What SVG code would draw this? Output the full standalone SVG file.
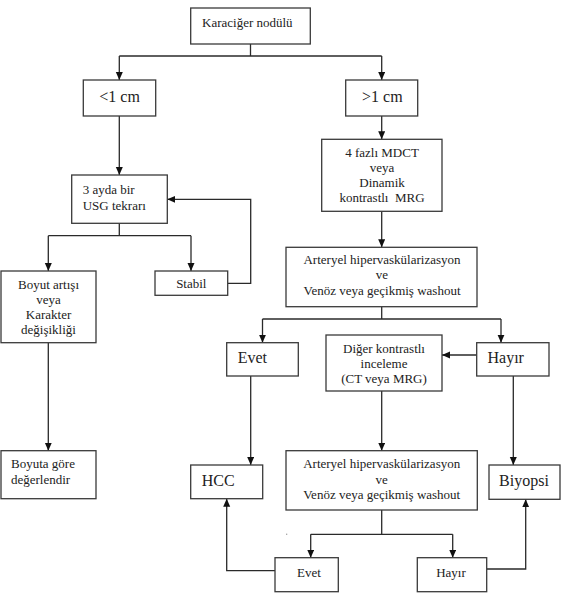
<svg xmlns="http://www.w3.org/2000/svg" width="562" height="593" viewBox="0 0 562 593">
<style>
.box{fill:#fff;stroke:#3a3a3a;stroke-width:1.3}
text{font-family:'Liberation Serif','DejaVu Serif','Times New Roman',serif;font-size:13px;fill:#222}
.b{font-size:16px}
.c{text-anchor:middle}
.ln{fill:none;stroke:#2a2a2a;stroke-width:1.3}
.ar{marker-end:url(#ah)}
</style>
<defs>
<marker id="ah" markerUnits="userSpaceOnUse" markerWidth="8" markerHeight="9" refX="8" refY="3.5" orient="auto">
<path d="M0,0 L8,3.5 L0,7 z" fill="#111"/>
</marker>
</defs>
<rect width="562" height="593" fill="#fff"/>
<g id="connectors">
<polyline class="ln" points="250.5,44 250.5,56"/>
<polyline class="ln" points="119.3,56 381.7,56"/>
<line class="ln ar" x1="119.3" y1="56" x2="119.3" y2="80"/>
<line class="ln ar" x1="381.7" y1="56" x2="381.7" y2="80"/>
<line class="ln ar" x1="119.3" y1="116" x2="119.3" y2="175"/>
<line class="ln ar" x1="381.7" y1="116" x2="381.7" y2="139.3"/>
<line class="ln ar" x1="381.7" y1="211.3" x2="381.7" y2="247.3"/>
<polyline class="ln" points="119.3,223.3 119.3,235.7"/>
<polyline class="ln" points="48.3,235.7 191,235.7"/>
<line class="ln ar" x1="48.3" y1="235.7" x2="48.3" y2="271"/>
<line class="ln ar" x1="191" y1="235.7" x2="191" y2="271"/>
<polyline class="ln ar" points="227.7,283.3 250.7,283.3 250.7,199.3 167.3,199.3"/>
<polyline class="ln" points="381.7,306.7 381.7,319"/>
<polyline class="ln" points="262.5,319 501,319"/>
<line class="ln ar" x1="262.5" y1="319" x2="262.5" y2="342.7"/>
<line class="ln ar" x1="501" y1="319" x2="501" y2="342.7"/>
<line class="ln ar" x1="476.7" y1="355" x2="442" y2="355"/>
<line class="ln ar" x1="381.7" y1="391" x2="381.7" y2="450.7"/>
<line class="ln ar" x1="250.7" y1="376" x2="250.7" y2="465"/>
<line class="ln ar" x1="513.3" y1="376" x2="513.3" y2="465"/>
<line class="ln ar" x1="48.3" y1="342.7" x2="48.3" y2="450.7"/>
<polyline class="ln" points="381.7,510 381.7,534.3"/>
<polyline class="ln" points="310.7,534.3 452.7,534.3"/>
<line class="ln ar" x1="310.7" y1="534.3" x2="310.7" y2="557.7"/>
<line class="ln ar" x1="452.7" y1="534.3" x2="452.7" y2="557.7"/>
<polyline class="ln ar" points="275,570.7 226.7,570.7 226.7,498.7"/>
<polyline class="ln ar" points="486.7,569 525.7,569 525.7,499.3"/>
</g>
<circle cx="286.7" cy="534.3" r="0.7" fill="#999"/>
<g id="karaciger">
<rect class="box" x="190.7" y="8" width="119.6" height="36"/>
<text x="202" y="27">Karaciğer nodülü</text>
</g>
<g id="kucuk">
<rect class="box" x="83.3" y="80" width="72.4" height="36"/>
<text class="b" x="99.3" y="102">&lt;1 cm</text>
</g>
<g id="buyuk">
<rect class="box" x="345.7" y="80" width="72" height="36"/>
<text class="b" x="362" y="102">&gt;1 cm</text>
</g>
<g id="usg">
<rect class="box" x="71.7" y="175" width="95.6" height="48.3"/>
<text x="82.7" y="193.5">3 ayda bir</text>
<text x="82.7" y="209.5">USG tekrarı</text>
</g>
<g id="mdct">
<rect class="box" x="321.7" y="139.3" width="120.3" height="72"/>
<text class="c" x="382" y="157">4 fazlı MDCT</text>
<text class="c" x="382" y="172">veya</text>
<text class="c" x="382" y="187">Dinamik</text>
<text class="c" x="382" y="202">kontrastlı&#160; MRG</text>
</g>
<g id="boyut">
<rect class="box" x="1" y="271" width="95" height="71.7"/>
<text class="c" x="48.5" y="288.5">Boyut artışı</text>
<text class="c" x="48.5" y="303.5">veya</text>
<text class="c" x="48.5" y="318.5">Karakter</text>
<text class="c" x="48.5" y="333.5">değişikliği</text>
</g>
<g id="stabil">
<rect class="box" x="155" y="271" width="72.7" height="24.3"/>
<text class="c" x="191.3" y="288.3">Stabil</text>
</g>
<g id="arteryel1">
<rect class="box" x="286" y="247.3" width="191" height="59.4"/>
<text class="c" x="382" y="263.5">Arteryel hipervaskülarizasyon</text>
<text class="c" x="382" y="279">ve</text>
<text class="c" x="382" y="295">Venöz veya geçikmiş washout</text>
</g>
<g id="evet1">
<rect class="box" x="226.7" y="342.7" width="71.6" height="33.3"/>
<text class="b" x="237.7" y="362.5">Evet</text>
</g>
<g id="diger">
<rect class="box" x="326" y="335" width="116" height="56"/>
<text class="c" x="384" y="353">Diğer kontrastlı</text>
<text class="c" x="384" y="367.5">inceleme</text>
<text class="c" x="384" y="382.5">(CT veya MRG)</text>
</g>
<g id="hayir1">
<rect class="box" x="476.7" y="342.7" width="72.3" height="33.3"/>
<text class="b" x="487.5" y="362.5">Hayır</text>
</g>
<g id="boyuta">
<rect class="box" x="1" y="450.7" width="95" height="48"/>
<text x="11" y="468">Boyuta göre</text>
<text x="11" y="483.5">değerlendir</text>
</g>
<g id="hcc">
<rect class="box" x="190.7" y="465" width="72" height="33.7"/>
<text class="b" x="201.7" y="486">HCC</text>
</g>
<g id="arteryel2">
<rect class="box" x="286" y="450.7" width="191.3" height="59.3"/>
<text class="c" x="381.7" y="468">Arteryel hipervaskülarizasyon</text>
<text class="c" x="381.7" y="483.5">ve</text>
<text class="c" x="381.7" y="498.5">Venöz veya geçikmiş washout</text>
</g>
<g id="biyopsi">
<rect class="box" x="489" y="465" width="71" height="34.3"/>
<text class="b c" x="524" y="486">Biyopsi</text>
</g>
<g id="evet2">
<rect class="box" x="275" y="557.7" width="63.3" height="34"/>
<text class="c" x="309" y="577">Evet</text>
</g>
<g id="hayir2">
<rect class="box" x="417.3" y="557.7" width="69.4" height="34"/>
<text class="c" x="451" y="577">Hayır</text>
</g>
</svg>
